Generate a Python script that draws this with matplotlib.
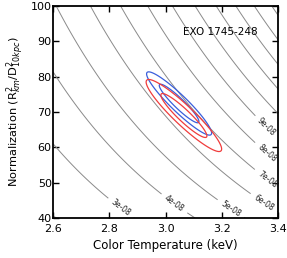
import matplotlib
matplotlib.use("Agg")
import matplotlib.pyplot as plt
import numpy as np

# blackbody flux grid: F = 1.076e-11 * N * kT^4 (erg/cm2/s)
flux_const = 1.076e-11
plain_levels = [2e-08, 1e-07, 1.1e-07, 1.2e-07, 1.3e-07, 1.4e-07]
label_levels = [3e-08, 4e-08, 5e-08, 6e-08, 7e-08, 8e-08, 9e-08]
label_T = [2.836, 3.010, 3.229, 3.348, 3.36, 3.36, 3.36]
label_N = [42.3, 41.8, 42.3, 44.2, 50.75, 58.3, 65.8]

# best fits (kT, norm) with errors and correlation
fit_names = ["blue", "red"]
fit_colors = ["#3a5fdc", "#f03c3c"]
fit_T = [3.048, 3.065]
fit_N = [72.4, 69.0]
fit_sigT = [0.0465, 0.0540]
fit_sigN = [3.60, 4.10]
fit_rho = [-0.935, -0.93]
conf_levels = [2.30, 6.18]

fig = plt.figure(figsize=(2.87, 2.58), dpi=100)
ax = fig.add_axes([0.185, 0.155, 0.784, 0.822])

T = np.linspace(2.6, 3.4, 400)
N = np.linspace(40, 100, 400)
TT, NN = np.meshgrid(T, N)
F = flux_const * NN * TT**4

ax.contour(TT, NN, F, levels=plain_levels, colors="#8a8a8a", linewidths=0.7)
cs = ax.contour(TT, NN, F, levels=label_levels, colors="#8a8a8a", linewidths=0.7)
ax.clabel(cs, fmt="%.0e", fontsize=5.5, inline=True, colors="#222222",
          manual=list(zip(label_T, label_N)))

for i in range(len(fit_names)):
    dT = (TT - fit_T[i]) / fit_sigT[i]
    dN = (NN - fit_N[i]) / fit_sigN[i]
    r = fit_rho[i]
    chi2 = (dT**2 - 2 * r * dT * dN + dN**2) / (1 - r**2)
    ax.contour(TT, NN, chi2, levels=conf_levels, colors=fit_colors[i], linewidths=0.9)

ax.set_xlim(2.6, 3.4)
ax.set_ylim(40, 100)
ax.set_xticks([2.6, 2.8, 3.0, 3.2, 3.4])
ax.set_xticklabels(["2.6", "2.8", "3.0", "3.2", "3.4"])
ax.set_yticks([40, 50, 60, 70, 80, 90, 100])
ax.tick_params(direction="in", top=True, right=True, length=4, width=1, labelsize=8, pad=1)
ax.tick_params(axis="x", pad=4)
for s in ax.spines.values():
    s.set_linewidth(1.3)

ax.set_xlabel("Color Temperature (keV)", fontsize=8.5, labelpad=4)
ax.set_ylabel(r"Normalization (R$^{2}_{km}$/D$^{2}_{10kpc}$)", fontsize=8.2, labelpad=3)
ax.text(0.907, 0.877, "EXO 1745-248", transform=ax.transAxes, ha="right", va="center", fontsize=7.5)

fig.savefig("out.png", dpi=100)
